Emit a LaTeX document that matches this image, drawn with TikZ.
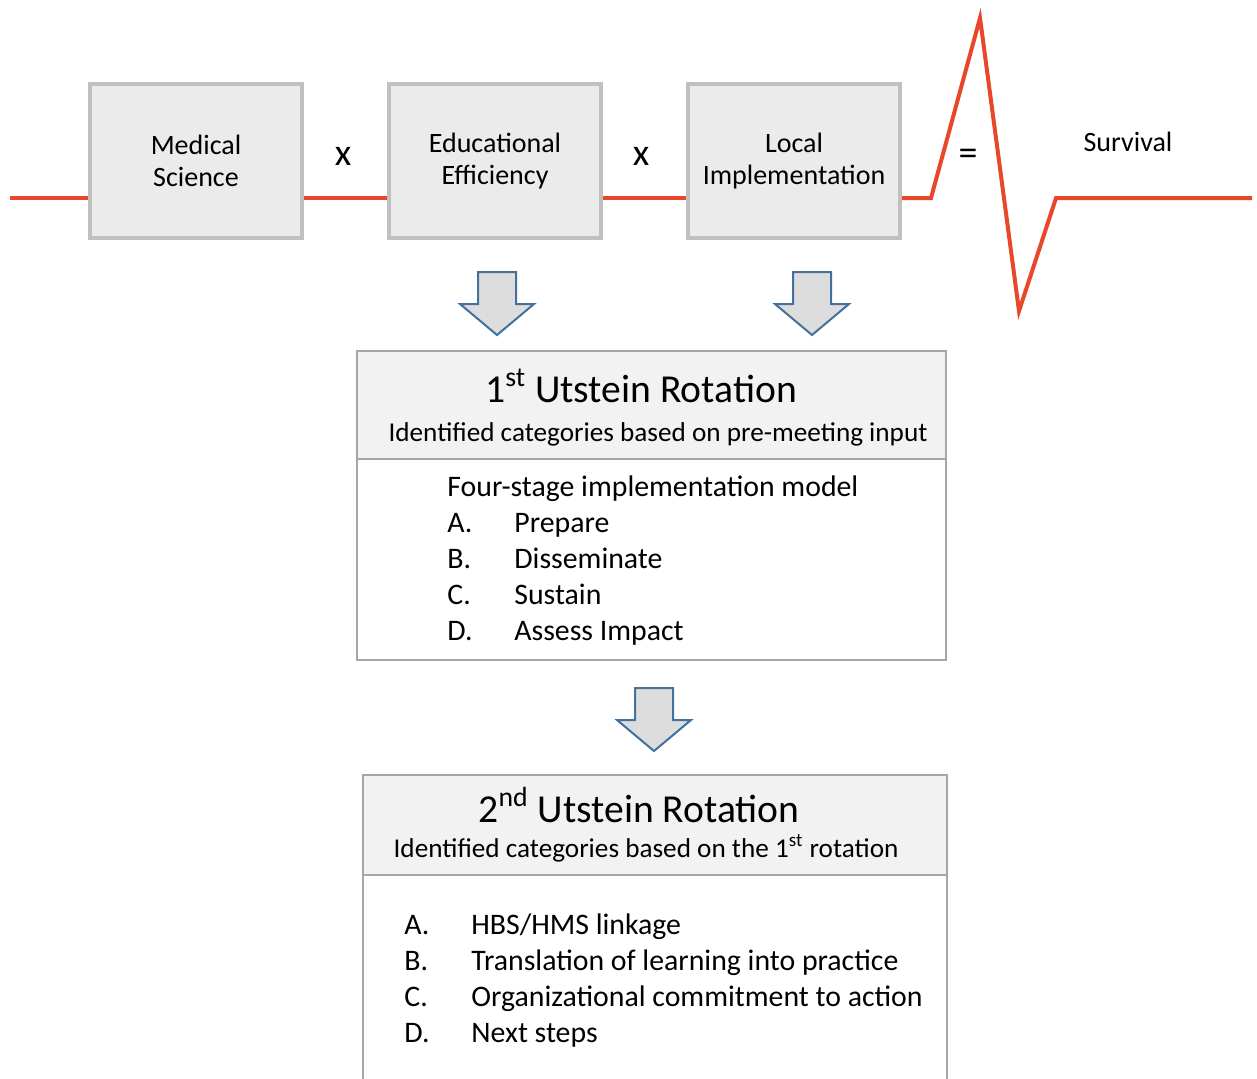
\documentclass[tikz,border=0pt]{standalone}
\usepackage{fontspec}
\setmainfont{Carlito}
\usetikzlibrary{positioning}
\definecolor{ecgred}{HTML}{E8472B}
\definecolor{boxgray}{HTML}{EBEBEB}
\definecolor{boxrim}{HTML}{C0C0C0}
\definecolor{arrowblue}{HTML}{41719C}
\definecolor{arrowfill}{HTML}{DDDDDD}
\definecolor{headfill}{HTML}{F2F2F2}
\definecolor{panelrim}{HTML}{A6A6A6}
\tikzset{
  factor/.style={draw=boxrim,fill=boxgray,line width=2pt,minimum width=106pt,
    minimum height=77pt,align=center,font=\fontsize{14}{16}\selectfont},
  ecg/.style={ecgred,line width=2pt},
  blockarrow/.style={draw=arrowblue,fill=arrowfill,line width=1pt},
  panel/.style={draw=panelrim,line width=1pt},
  optext/.style={font=\fontsize{14}{16}\selectfont},
  opsign/.style={font=\fontsize{19}{20}\selectfont},
  title/.style={anchor=base,font=\fontsize{19.8}{22}\selectfont},
  subtitle/.style={anchor=base,font=\fontsize{13.6}{15}\selectfont},
  item/.style={anchor=base west,inner sep=0pt,font=\fontsize{14.9}{17}\selectfont}
}
\begin{document}
\begin{tikzpicture}[x=0.5pt,y=-0.5pt]
  \useasboundingbox (0,0) rectangle (1257,1078);
  % factor boxes on the red line
  \node[factor] (med) at (196,161) {Medical\\Science};
  \node[factor] (edu) at (495,161) {Educational\\Efficiency};
  \node[factor] (loc) at (794,161) {Local\\Implementation};
  \node[opsign] (times1) at (343,156) {x};
  \node[opsign] (times2) at (641,156) {x};
  \node[opsign] (equals) at (968,157) {=};
  \node[optext] (survival) at (1128,142) {Survival};
  % ecg trace
  \coordinate (start) at (10,198);
  \coordinate (stop) at (1252,198);
  \draw[ecg] (start) -- (start -| med.west);
  \draw[ecg] (med.east |- start) -- (edu.west |- start);
  \draw[ecg] (edu.east |- start) -- (loc.west |- start);
  \draw[ecg] (loc.east |- start) -- (931,198) -- (980,18) -- (1019,311) -- (1056,198) -- (stop);
  % block arrows
  \foreach \ax/\ay in {497/272, 812/272, 654/688}
    \draw[blockarrow] (\ax-19,\ay) -- (\ax+19,\ay) -- (\ax+19,\ay+32) -- (\ax+37,\ay+32)
      -- (\ax,\ay+63) -- (\ax-37,\ay+32) -- (\ax-19,\ay+32) -- cycle;
  % first rotation
  \fill[headfill] (357,351) rectangle (946,459);
  \draw[panel] (357,351) rectangle (946,660);
  \draw[panel] (357,459) -- (946,459);
  \node[title] (rot1) at (641,402) {1\textsuperscript{st} Utstein Rotation};
  \node[subtitle] (sub1) at (658,441) {Identified categories based on pre-meeting input};
  \node[item] (model) at (447,496) {Four-stage implementation model};
  \foreach \l/\t [count=\i] in {A./Prepare, B./Disseminate, C./Sustain, D./Assess Impact} {
    \node[item] (stageL\i) at (447,496+36*\i) {\l};
    \node[item] (stage\i) at (514,496+36*\i) {\t};
  }
  % second rotation
  \fill[headfill] (363,775) rectangle (947,875);
  \draw[panel] (363,1080) -- (363,775) -- (947,775) -- (947,1080);
  \draw[panel] (363,875) -- (947,875);
  \node[title] (rot2) at (639,822) {2\textsuperscript{nd} Utstein Rotation};
  \node[subtitle] (sub2) at (646,857) {Identified categories based on the 1\textsuperscript{st} rotation};
  \foreach \l/\t [count=\i] in {A./HBS\slash HMS linkage, B./Translation of learning into practice,
      C./Organizational commitment to action, D./Next steps} {
    \node[item] (catL\i) at (404,898+36*\i) {\l};
    \node[item] (cat\i) at (471,898+36*\i) {\t};
  }
\end{tikzpicture}
\end{document}
